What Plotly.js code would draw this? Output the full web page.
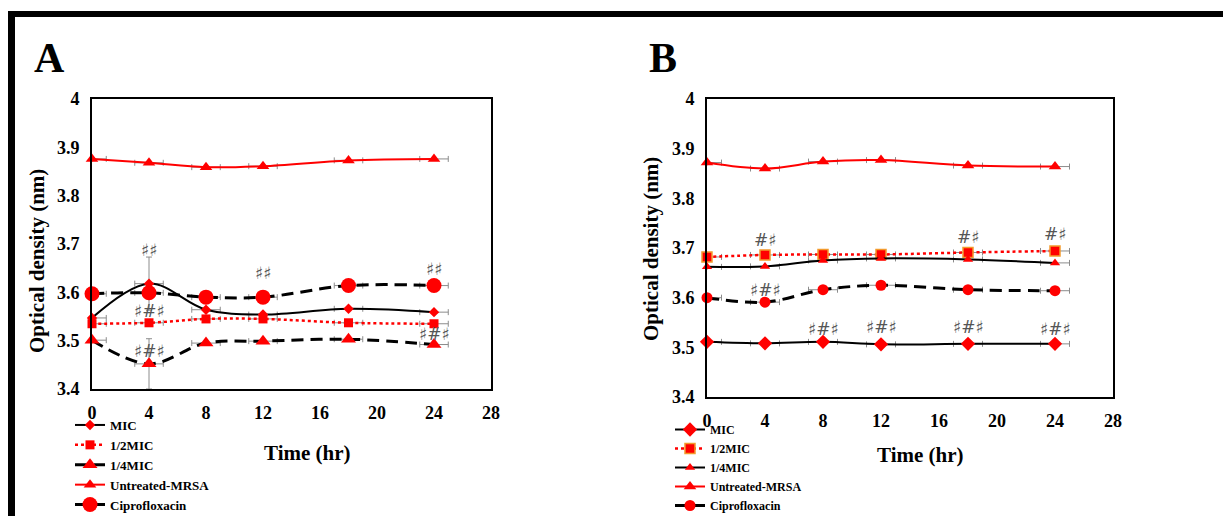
<!DOCTYPE html>
<html>
<head>
<meta charset="utf-8">
<script src="https://cdn.plot.ly/plotly-3.0.1.min.js"></script>
<style>html,body{margin:0;padding:0;background:#fff;}#chart{width:1223px;height:516px;}</style>
</head>
<body>
<div id="chart"></div>
<script>
// ---- data ----
const timeHr = [0, 4, 8, 12, 18, 24];
const seriesNames = ["MIC", "1/2MIC", "1/4MIC", "Untreated-MRSA", "Ciprofloxacin"];

// Panel A
const A_MIC       = [3.547, 3.618, 3.564, 3.554, 3.566, 3.559];
const A_halfMIC   = [3.535, 3.537, 3.545, 3.545, 3.537, 3.535];
const A_quarterMIC= [3.501, 3.452, 3.495, 3.499, 3.503, 3.492];
const A_untreated = [3.876, 3.868, 3.859, 3.861, 3.873, 3.876];
const A_cipro     = [3.597, 3.599, 3.590, 3.590, 3.614, 3.614];
const A_MIC_err       = [0, 0.055, 0, 0, 0, 0];
const A_quarterMIC_err= [0, 0.052, 0, 0, 0, 0];

// Panel B
const B_MIC       = [3.511, 3.508, 3.511, 3.506, 3.507, 3.507];
const B_halfMIC   = [3.682, 3.686, 3.687, 3.687, 3.691, 3.694];
const B_quarterMIC= [3.662, 3.663, 3.675, 3.679, 3.677, 3.670];
const B_untreated = [3.872, 3.860, 3.874, 3.877, 3.866, 3.864];
const B_cipro     = [3.600, 3.591, 3.616, 3.625, 3.616, 3.614];

// horizontal error (hr)
const timeErrPlus  = [1, 1, 1, 1, 1, 1];
const timeErrMinus = [0, 1, 1, 1, 1, 1];

// significance labels
const A_sigX = [4, 12, 24, 4, 4, 24];
const A_sigY = [3.688, 3.640, 3.648, 3.561, 3.478, 3.514];
const A_sigT = ["♯♯", "♯♯", "♯♯", "♯#♯", "♯#♯", "♯#♯"];
const B_sigX = [4, 18, 24, 4, 8, 12, 18, 24];
const B_sigY = [3.717, 3.722, 3.729, 3.616, 3.536, 3.540, 3.541, 3.536];
const B_sigT = ["#♯", "#♯", "#♯", "♯#♯", "♯#♯", "♯#♯", "♯#♯", "♯#♯"];

const xTicks = [0, 4, 8, 12, 16, 20, 24, 28];
const yTicks = [3.4, 3.5, 3.6, 3.7, 3.8, 3.9, 4];

// ---- styling ----
const W = 1223, H = 516;
const px = v => v / W;
const py = v => 1 - v / H;
const SERIF = "Liberation Serif";
const RED = "#ff0000";
const ERR = "#8c8c8c";
const LONGDASH = "12px,7px";

function errX() {
  return {type: "data", symmetric: false, array: timeErrPlus, arrayminus: timeErrMinus,
          color: ERR, thickness: 1, width: 3};
}
function errY(arr) {
  return arr ? {type: "data", array: arr, visible: true, color: ERR, thickness: 1, width: 3} : {visible: false};
}
function tr(y, name, xa, ya, leg, line, marker, ey) {
  return {x: timeHr, y: y, name: name, xaxis: xa, yaxis: ya, legend: leg, type: "scatter",
          mode: "lines+markers", line: Object.assign({shape: "spline", smoothing: 1}, line),
          marker: marker, error_x: errX(), error_y: errY(ey), cliponaxis: false};
}

const data = [
  // Panel A
  tr(A_MIC, seriesNames[0], "x", "y", "legend", {color: "#000", width: 2, dash: "solid"},
     {symbol: "diamond", size: 8, color: RED}, A_MIC_err),
  tr(A_halfMIC, seriesNames[1], "x", "y", "legend", {color: RED, width: 2.5, dash: "dot"},
     {symbol: "square", size: 9, color: RED}),
  tr(A_quarterMIC, seriesNames[2], "x", "y", "legend", {color: "#000", width: 3, dash: LONGDASH},
     {symbol: "triangle-up", size: 13, color: RED}, A_quarterMIC_err),
  tr(A_untreated, seriesNames[3], "x", "y", "legend", {color: RED, width: 2, dash: "solid"},
     {symbol: "triangle-up", size: 11, color: RED}),
  tr(A_cipro, seriesNames[4], "x", "y", "legend", {color: "#000", width: 3, dash: LONGDASH},
     {symbol: "circle", size: 15, color: RED}),
  // Panel B
  tr(B_MIC, seriesNames[0], "x2", "y2", "legend2", {color: "#000", width: 2, dash: "solid"},
     {symbol: "diamond", size: 11, color: RED}),
  tr(B_halfMIC, seriesNames[1], "x2", "y2", "legend2", {color: RED, width: 2.5, dash: "dot"},
     {symbol: "square", size: 10, color: RED, line: {color: "#f39a2c", width: 1.5}}),
  tr(B_quarterMIC, seriesNames[2], "x2", "y2", "legend2", {color: "#000", width: 2, dash: "solid"},
     {symbol: "triangle-up", size: 9, color: RED}),
  tr(B_untreated, seriesNames[3], "x2", "y2", "legend2", {color: RED, width: 2, dash: "solid"},
     {symbol: "triangle-up", size: 11, color: RED}),
  tr(B_cipro, seriesNames[4], "x2", "y2", "legend2", {color: "#000", width: 3, dash: LONGDASH},
     {symbol: "circle", size: 11, color: RED})
];

const tickFont = {family: SERIF, size: 18, color: "#000", weight: 700};
function xAxis(dom, anchor) {
  return {domain: dom, anchor: anchor, range: [0, 28], tickvals: xTicks, showgrid: false, zeroline: false,
          showline: true, linecolor: "#000", linewidth: 2, mirror: true, ticks: "",
          ticklabelstandoff: 6, tickfont: tickFont, fixedrange: true, automargin: false};
}
function yAxis(dom, anchor) {
  return {domain: dom, anchor: anchor, range: [3.4, 4], tickvals: yTicks, showgrid: false, zeroline: false,
          showline: true, linecolor: "#000", linewidth: 2, mirror: true, ticks: "",
          ticklabelstandoff: 7, tickfont: tickFont, fixedrange: true, automargin: false};
}

const annotations = [];
function sig(xs, ys, ts, xa, ya) {
  for (let i = 0; i < xs.length; i++) {
    annotations.push({x: xs[i], y: ys[i], xref: xa, yref: ya, text: ts[i], showarrow: false,
                      xanchor: "center", yanchor: "middle",
                      font: {family: "DejaVu Sans", size: 17, color: "#555"}});
  }
}
sig(A_sigX, A_sigY, A_sigT, "x", "y");
sig(B_sigX, B_sigY, B_sigT, "x2", "y2");

const titleFont = {family: SERIF, size: 21, color: "#000", weight: 700};
function paperText(text, x, y, font, angle) {
  return {text: text, x: px(x), y: py(y), xref: "paper", yref: "paper", showarrow: false,
          xanchor: "center", yanchor: "middle", textangle: angle || 0, font: font};
}
const letterFont = {family: SERIF, size: 42, color: "#000", weight: 700};
annotations.push(
  paperText("A", 49, 58, letterFont),
  paperText("B", 663, 58, letterFont),
  paperText("Time (hr)", 307, 453, titleFont),
  paperText("Time (hr)", 920, 455, titleFont),
  paperText("Optical density (nm)", 37, 261, titleFont, -90),
  paperText("Optical density (nm)", 651, 249, titleFont, -90)
);

const layout = {
  width: W, height: H,
  margin: {l: 0, r: 0, t: 0, b: 0, autoexpand: false},
  paper_bgcolor: "#fff", plot_bgcolor: "#fff",
  showlegend: true,
  xaxis: xAxis([px(92), px(491)], "y"),
  yaxis: yAxis([py(389), py(99)], "x"),
  xaxis2: xAxis([px(707), px(1113)], "y2"),
  yaxis2: yAxis([py(397), py(99)], "x2"),
  legend: {x: px(70), y: py(410), xanchor: "left", yanchor: "top",
           font: {family: SERIF, size: 13, color: "#000", weight: 700},
           bgcolor: "rgba(0,0,0,0)", tracegroupgap: 0, itemwidth: 30},
  legend2: {x: px(670), y: py(415), xanchor: "left", yanchor: "top",
            font: {family: SERIF, size: 12, color: "#000", weight: 700},
            bgcolor: "rgba(0,0,0,0)", tracegroupgap: 0, itemwidth: 30},
  annotations: annotations,
  shapes: [
    {type: "line", xref: "paper", yref: "paper", x0: px(8), x1: px(1223), y0: py(14), y1: py(14),
     line: {color: "#000", width: 6}},
    {type: "line", xref: "paper", yref: "paper", x0: px(11.5), x1: px(11.5), y0: py(11), y1: py(516),
     line: {color: "#000", width: 7}}
  ]
};

Plotly.newPlot("chart", data, layout, {staticPlot: true, displayModeBar: false});
</script>
</body>
</html>
